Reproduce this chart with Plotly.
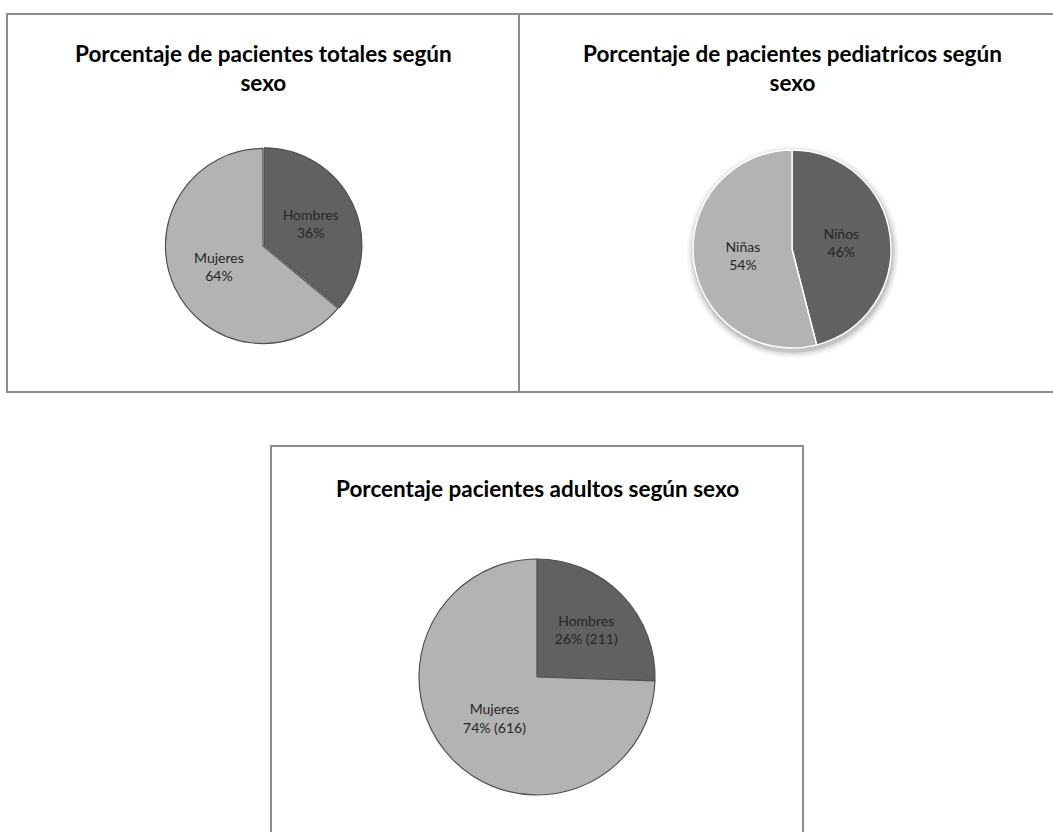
import plotly.graph_objects as go

W, H = 1053, 832

# Pie 1: total patients by sex
total_labels = ["Hombres", "Mujeres"]
total_pct = [36, 64]

# Pie 2: paediatric patients by sex
ped_labels = ["Niños", "Niñas"]
ped_pct = [46, 54]

# Pie 3: adult patients by sex (counts)
adult_labels = ["Hombres", "Mujeres"]
adult_counts = [211, 616]

titles = [
    "Porcentaje de pacientes totales según<br>sexo",
    "Porcentaje de pacientes pediatricos según<br>sexo",
    "Porcentaje pacientes adultos según sexo",
]

DARK = "#616161"
LIGHT = "#b3b3b3"
FRAME = "#8c8c8c"
TITLE_FONT = dict(family="Lato", size=22.5, color="#000000")
LABEL_FONT = dict(family="Lato", size=14, color="#262626")


def px_domain(cx, cy, r):
    """Square pie domain (pixel centre/radius -> paper fractions)."""
    return dict(x=[(cx - r) / W, (cx + r) / W],
                y=[1 - (cy + r) / H, 1 - (cy - r) / H])


def px_x(x):
    return x / W


def px_y(y):
    return 1 - y / H


fig = go.Figure()

fig.add_trace(go.Pie(
    labels=total_labels, values=total_pct, sort=False, direction="clockwise",
    rotation=0, domain=px_domain(263, 246, 99), pull=[0.015, 0],
    marker=dict(colors=[DARK, LIGHT], line=dict(color="#505050", width=1.2)),
    texttemplate="%{label}<br>%{percent:.0%}",
    textposition="inside", insidetextorientation="horizontal",
    textfont=LABEL_FONT, showlegend=False, hoverinfo="label+percent",
))

fig.add_trace(go.Pie(
    labels=ped_labels, values=ped_pct, sort=False, direction="clockwise",
    rotation=0, domain=px_domain(792, 249, 99),
    marker=dict(colors=[DARK, LIGHT], line=dict(color="#ffffff", width=1.5)),
    texttemplate="%{label}<br>%{percent:.0%}",
    textposition="inside", insidetextorientation="horizontal",
    textfont=LABEL_FONT, showlegend=False, hoverinfo="label+percent",
))

fig.add_trace(go.Pie(
    labels=adult_labels, values=adult_counts, sort=False, direction="clockwise",
    rotation=0, domain=px_domain(537, 677, 118),
    marker=dict(colors=[DARK, LIGHT], line=dict(color="#505050", width=1.2)),
    texttemplate="%{label}<br>%{percent:.0%} (%{value})",
    textposition="inside", insidetextorientation="horizontal",
    textfont=LABEL_FONT, showlegend=False, hoverinfo="label+percent+value",
))

shapes = []
# chart frames
frame = dict(type="rect", xref="paper", yref="paper",
             line=dict(color=FRAME, width=2), fillcolor="rgba(0,0,0,0)",
             layer="below")
shapes.append(dict(frame, x0=px_x(7), x1=px_x(519), y0=px_y(392), y1=px_y(14)))
shapes.append(dict(frame, x0=px_x(519), x1=px_x(1068), y0=px_y(392), y1=px_y(14)))
shapes.append(dict(frame, x0=px_x(271), x1=px_x(803), y0=px_y(850), y1=px_y(446)))

# soft drop shadow behind the paediatric pie
for grow, alpha in [(7, 0.035), (5, 0.05), (3, 0.07), (1.5, 0.09)]:
    cx, cy, r = 793, 252, 99 + grow
    shapes.append(dict(type="circle", xref="paper", yref="paper",
                       x0=px_x(cx - r), x1=px_x(cx + r),
                       y0=px_y(cy + r), y1=px_y(cy - r),
                       line=dict(width=0), fillcolor=f"rgba(0,0,0,{alpha})",
                       layer="below"))

annotations = []
for text, x, y in zip(titles, [263, 792, 537], [68, 68, 488]):
    annotations.append(dict(text=f"<b>{text}</b>", x=px_x(x), y=px_y(y),
                            xref="paper", yref="paper", showarrow=False,
                            xanchor="center", yanchor="middle",
                            font=TITLE_FONT, align="center"))

fig.update_layout(
    width=W, height=H, margin=dict(l=0, r=0, t=0, b=0),
    paper_bgcolor="white", plot_bgcolor="white",
    shapes=shapes, annotations=annotations,
)

fig.write_html("out.html")
